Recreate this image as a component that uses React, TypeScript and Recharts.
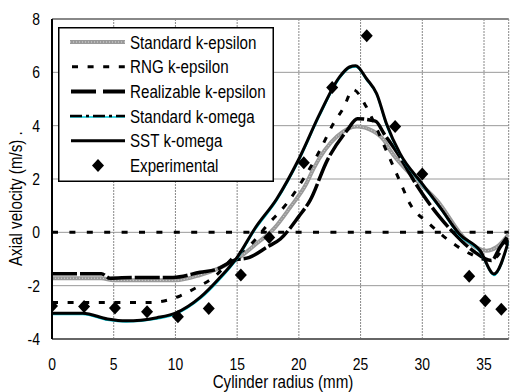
import React from "react";
import {
  ComposedChart,
  Line,
  Scatter,
  CartesianGrid,
  XAxis,
  YAxis,
  ReferenceLine,
  Legend,
  Label,
} from "recharts";

// radius (mm) / axial velocity (m/s)
const skeR = [0, 4, 5, 10, 12, 13.5, 15, 16.5, 18, 19.3, 20.6, 21.2, 23.1, 24.7, 26, 26.9, 27.4, 29, 31.2, 33.6, 35.2, 36, 37];
const skeV = [-1.72, -1.72, -1.8, -1.8, -1.6, -1.35, -1.0, -0.45, 0.15, 0.94, 1.82, 2.4, 3.6, 3.97, 3.8, 3.45, 3.07, 2.2, 1.19, -0.31, -0.69, -0.56, -0.07];

const rngR = [0, 8, 10.4, 11.7, 13.1, 14.7, 16, 17.5, 19, 20.5, 21.7, 22.8, 23.6, 24.4, 25.4, 26.2, 27.1, 28.2, 29, 30.5, 32, 33.9, 35.5, 37];
const rngV = [-2.63, -2.63, -2.38, -2.07, -1.69, -0.94, -0.5, 0.3, 1.07, 2.1, 3.07, 4.08, 4.65, 5.35, 4.76, 4.0, 3.05, 1.9, 1.07, 0.35, -0.25, -0.81, -1.06, -0.2];

const relR = [0, 4, 4.7, 6.6, 9.8, 12, 13.4, 14.7, 16, 17.4, 18.5, 20, 20.9, 22.3, 23.9, 24.75, 26.2, 26.9, 28.2, 29.5, 31.2, 32.5, 34.1, 35.6, 36.3, 37];
const relV = [-1.55, -1.55, -1.72, -1.69, -1.69, -1.5, -1.38, -1.06, -0.94, -0.56, -0.25, 0.6, 1.19, 2.7, 3.82, 4.26, 4.17, 3.7, 2.82, 1.8, 0.69, 0.0, -0.69, -1.06, -0.56, -0.1];

const komR = [0, 2.5, 4.5, 6, 8.5, 10, 12, 13.5, 15, 16.5, 18.2, 20, 21.7, 23.3, 24.1, 24.6, 25.5, 26.3, 27.1, 28.2, 30, 31.5, 33, 34.7, 35.8, 37];
const komV = [-3.08, -3.08, -3.3, -3.36, -3.25, -3.08, -2.5, -1.82, -1.0, 0.12, 1.18, 2.68, 4.38, 5.77, 6.15, 6.2, 5.7, 5.15, 4.0, 2.9, 1.76, 0.85, -0.12, -0.76, -1.62, -0.36];

const sstR = [0, 2.5, 4.5, 6, 8.5, 10, 12, 13.5, 15, 16.5, 18.2, 20, 21.7, 23.3, 24.1, 24.6, 25.5, 26.3, 27.1, 28.2, 30, 31.5, 33, 34.7, 35.8, 37];
const sstV = [-3.03, -3.03, -3.25, -3.32, -3.2, -3.03, -2.44, -1.75, -0.94, 0.19, 1.25, 2.75, 4.45, 5.83, 6.2, 6.25, 5.75, 5.2, 4.07, 2.95, 1.82, 0.9, -0.06, -0.7, -1.56, -0.3];

const expR = [0, 2.6, 5.1, 7.7, 10.2, 12.7, 15.3, 17.6, 20.4, 22.7, 25.5, 27.8, 30.0, 33.8, 35.1, 36.4];
const expV = [-2.76, -2.78, -2.84, -2.98, -3.17, -2.86, -1.6, -0.19, 2.61, 5.43, 7.37, 3.97, 2.19, -1.65, -2.57, -2.88];

const xTicks = [0, 5, 10, 15, 20, 25, 30, 35];
const yTicks = [-4, -2, 0, 2, 4, 6, 8];

const toPts = (r: number[], v: number[]) => r.map((x, i) => ({ r: x, v: v[i] }));

// no narrow font available, so squeeze Liberation Sans horizontally
const FONT = "'Liberation Sans', Arial, sans-serif";
const SQ = 0.82;

const NarrowText = ({ x, y, size, anchor, children, rotate }: any) => (
  <g transform={`translate(${x},${y})${rotate ? ` rotate(${rotate})` : ""} scale(${SQ},1)`}>
    <text x={0} y={0} textAnchor={anchor || "start"} fontSize={size} fontFamily={FONT} fill="#000">
      {children}
    </text>
  </g>
);

const XTick = (props: any) => {
  const { x, y, payload } = props;
  return (
    <NarrowText x={x} y={y + 12} size={17} anchor="middle">
      {payload.value}
    </NarrowText>
  );
};

const YTick = (props: any) => {
  const { x, y, payload } = props;
  return (
    <NarrowText x={x} y={y + 6} size={17} anchor="end">
      {payload.value}
    </NarrowText>
  );
};

const Diamond = (props: any) => {
  const { cx, cy } = props;
  return (
    <polygon
      points={`${cx},${cy - 6.5} ${cx + 6},${cy} ${cx},${cy + 6.5} ${cx - 6},${cy}`}
      fill="#000"
    />
  );
};

const legendRows = [
  "Standard k-epsilon",
  "RNG k-epsilon",
  "Realizable k-epsilon",
  "Standard k-omega",
  "SST k-omega",
  "Experimental",
];

const LegendBox = () => {
  const rowY = (i: number) => 15 + i * 24.7;
  return (
    <svg width={216} height={155} style={{ display: "block" }}>
      <rect x={0.75} y={0.75} width={214.5} height={153.5} fill="#fff" stroke="#000" strokeWidth={1.5} />
      <line x1={12} x2={67} y1={rowY(0)} y2={rowY(0)} stroke="#9a9a9a" strokeWidth={4} />
      <line x1={12} x2={67} y1={rowY(0)} y2={rowY(0)} stroke="#d8d8d8" strokeWidth={1} strokeDasharray="1 2" />
      <line x1={14} x2={67} y1={rowY(1)} y2={rowY(1)} stroke="#000" strokeWidth={3} strokeDasharray="6 9.6" />
      <line x1={13} x2={67} y1={rowY(2)} y2={rowY(2)} stroke="#000" strokeWidth={4} strokeDasharray="25 7" />
      <line x1={12} x2={67} y1={rowY(3) + 1} y2={rowY(3) + 1} stroke="#00c8d8" strokeWidth={1.5} />
      <line x1={12} x2={67} y1={rowY(3)} y2={rowY(3)} stroke="#000" strokeWidth={2.5} strokeDasharray="12 4 3 4" />
      <line x1={13} x2={67} y1={rowY(4)} y2={rowY(4)} stroke="#000" strokeWidth={3} />
      <Diamond cx={40} cy={rowY(5)} />
      {legendRows.map((t, i) => (
        <NarrowText key={t} x={72} y={rowY(i) + 6.5} size={18.5}>
          {t}
        </NarrowText>
      ))}
    </svg>
  );
};

export default function App() {
  return (
    <div style={{ position: "absolute", left: 0, top: 0, background: "#fff" }}>
      <ComposedChart
        width={510}
        height={392}
        margin={{ top: 19, right: 1.3, bottom: 23, left: 0 }}
      >
        <CartesianGrid horizontal vertical={false} stroke="#9a9a9a" strokeWidth={1} />
        <CartesianGrid horizontal={false} vertical stroke="#888" strokeWidth={1} strokeDasharray="2 1" />
        <XAxis
          type="number"
          dataKey="r"
          domain={[0, 37]}
          ticks={xTicks}
          allowDataOverflow
          height={30}
          tickLine={false}
          tickSize={0}
          tickMargin={19}
          stroke="#666"
          strokeWidth={2}
          tick={<XTick />}
        >
          <Label
            content={() => (
              <NarrowText x={283} y={388} size={18.5} anchor="middle">
                Cylinder radius (mm)
              </NarrowText>
            )}
          />
        </XAxis>
        <YAxis
          type="number"
          dataKey="v"
          domain={[-4, 8]}
          ticks={yTicks}
          allowDataOverflow
          width={52}
          tickLine={false}
          tickSize={0}
          tickMargin={12}
          stroke="#000"
          strokeWidth={2}
          tick={<YTick />}
        >
          <Label
            content={() => (
              <NarrowText x={22} y={266} size={18.5} rotate={-90}>
                {"Axial velocity  (m/s)      ."}
              </NarrowText>
            )}
          />
        </YAxis>
        <ReferenceLine y={8} stroke="#888" strokeWidth={2} />
        <ReferenceLine y={0} stroke="#000" strokeWidth={3} strokeDasharray="6 11.4" />
        <Line
          data={toPts(skeR, skeV)}
          dataKey="v"
          type="monotone"
          stroke="#9a9a9a"
          strokeWidth={4}
          dot={false}
          isAnimationActive={false}
        />
        <Line
          data={toPts(skeR, skeV)}
          dataKey="v"
          type="monotone"
          stroke="#dcdcdc"
          strokeWidth={1}
          strokeDasharray="1 2"
          dot={false}
          isAnimationActive={false}
          legendType="none"
        />
        <Line
          data={toPts(rngR, rngV)}
          dataKey="v"
          type="monotone"
          stroke="#000"
          strokeWidth={3}
          strokeDasharray="6 9.6"
          dot={false}
          isAnimationActive={false}
        />
        <Line
          data={toPts(relR, relV)}
          dataKey="v"
          type="monotone"
          stroke="#000"
          strokeWidth={3.5}
          strokeDasharray="25 3"
          dot={false}
          isAnimationActive={false}
        />
        <Line
          data={toPts(komR, komV)}
          dataKey="v"
          type="monotone"
          stroke="#00c8d8"
          strokeWidth={1.5}
          dot={false}
          isAnimationActive={false}
        />
        <Line
          data={toPts(sstR, sstV)}
          dataKey="v"
          type="monotone"
          stroke="#000"
          strokeWidth={3}
          dot={false}
          isAnimationActive={false}
        />
        <Scatter
          data={toPts(expR, expV)}
          dataKey="v"
          fill="#000"
          shape={<Diamond />}
          isAnimationActive={false}
        />
        <Legend
          layout="vertical"
          align="center"
          verticalAlign="middle"
          wrapperStyle={{ position: "absolute", left: 58, top: 27, width: 216, height: 155 }}
          content={() => <LegendBox />}
        />
      </ComposedChart>
    </div>
  );
}
